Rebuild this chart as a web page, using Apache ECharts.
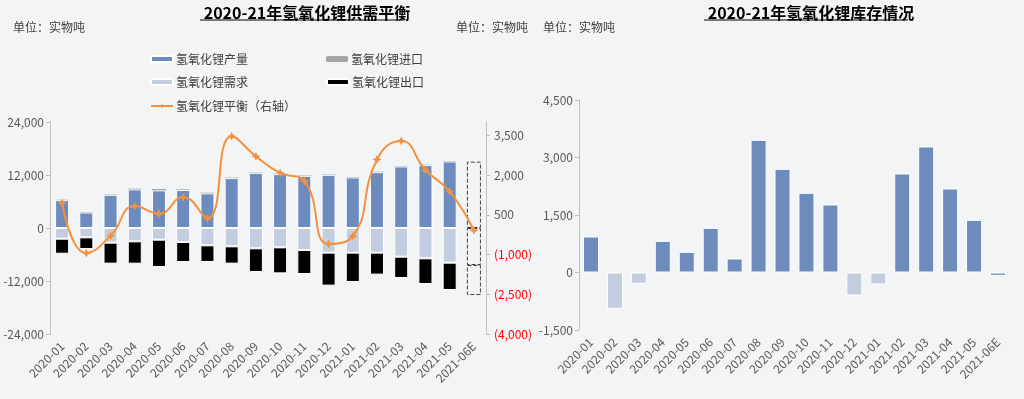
<!DOCTYPE html>
<html>
<head>
<meta charset="utf-8">
<script src="https://cdn.jsdelivr.net/npm/echarts@6/dist/echarts.min.js"></script>
<style>
html, body { margin: 0; padding: 0; background: #f3f4f6; }
#main { width: 1024px; height: 399px; }
</style>
</head>
<body>
<div id="main"></div>
<script>
// 月份
var months = ['2020-01', '2020-02', '2020-03', '2020-04', '2020-05', '2020-06', '2020-07', '2020-08', '2020-09',
    '2020-10', '2020-11', '2020-12', '2021-01', '2021-02', '2021-03', '2021-04', '2021-05', '2021-06E'];
// 供需（实物吨）
var production = [6300, 3520, 7520, 8750, 8530, 8600, 7850, 11300, 12500, 12200, 11820, 12050, 11450, 12650, 13940, 14240, 15070, 15020];
var imports = [100, 100, 100, 150, 300, 150, 150, 100, 100, 100, 100, 100, 100, 100, 100, 100, 100, 0];
var demand = [-2420, -2110, -3320, -3020, -2640, -3170, -3920, -4150, -4600, -4380, -4980, -5580, -5580, -5580, -6490, -6870, -7850, -8380];
var exports = [-3400, -2640, -4750, -5060, -6190, -4530, -3770, -3920, -5360, -5890, -5430, -7470, -6640, -4980, -4830, -5810, -6190, -6790];
// 平衡 / 库存
var balance = [939, -948, -296, 826, 539, 1165, 365, 3461, 2704, 2078, 1774, -600, -313, 2583, 3287, 2191, 1374, -87];

var FONT = 'Noto Sans CJK SC';
var TXT = '#595959';
var estIdx = months.length - 1;

function fmt(v) {
    return echarts.format.addCommas(v);
}
function fmtRight(v) {
    return v < 0 ? '(' + fmt(-v) + ')' : fmt(v);
}
// 预估月份画虚线框
function withEstimate(arr) {
    return arr.map(function (v, i) {
        if (i !== estIdx) return v;
        return {
            value: v,
            itemStyle: { color: 'rgba(0,0,0,0)', borderColor: '#404040', borderType: 'dashed', borderWidth: 1 }
        };
    });
}

var myChart = echarts.init(document.getElementById('main'));

var barBorder = { borderColor: '#fff', borderWidth: 1 };

var option = {
    backgroundColor: '#f3f4f6',
    animation: false,
    textStyle: { fontFamily: FONT },
    title: [
        { text: '2020-21年氢氧化锂供需平衡', left: 302, top: 0, textAlign: 'center',
          textStyle: { fontSize: 16, fontWeight: 'bold', color: '#000', fontFamily: FONT } },
        { text: '2020-21年氢氧化锂库存情况', left: 806, top: 0, textAlign: 'center',
          textStyle: { fontSize: 16, fontWeight: 'bold', color: '#000', fontFamily: FONT } },
        { text: '单位：实物吨', left: 8, top: 16, textStyle: { fontSize: 12, fontWeight: 'normal', color: '#404040', fontFamily: FONT } },
        { text: '单位：实物吨', left: 451, top: 16, textStyle: { fontSize: 12, fontWeight: 'normal', color: '#404040', fontFamily: FONT } },
        { text: '单位：实物吨', left: 538, top: 16, textStyle: { fontSize: 12, fontWeight: 'normal', color: '#404040', fontFamily: FONT } }
    ],
    graphic: [
        { type: 'line', shape: { x1: 200, y1: 20, x2: 404, y2: 20 }, style: { stroke: '#000', lineWidth: 1.2 } },
        { type: 'line', shape: { x1: 704, y1: 20, x2: 908, y2: 20 }, style: { stroke: '#000', lineWidth: 1.2 } }
    ],
    legend: [
        { data: ['氢氧化锂产量'], left: 150, top: 53 },
        { data: ['氢氧化锂进口'], left: 326, top: 53 },
        { data: ['氢氧化锂需求'], left: 150, top: 76 },
        { data: ['氢氧化锂出口'], left: 326, top: 76 },
        { data: ['氢氧化锂平衡（右轴）'], left: 150, top: 100 }
    ].map(function (l) {
        l.itemWidth = 22;
        l.itemHeight = 6;
        l.itemGap = 4;
        l.padding = 0;
        l.selectedMode = false;
        l.textStyle = { fontSize: 12, color: '#404040', fontFamily: FONT, padding: [0, 0, 0, -2] };
        return l;
    }),
    grid: [
        { left: 50, top: 122, width: 436, height: 212 },
        { left: 579, top: 100, width: 431, height: 230 }
    ],
    xAxis: [
        {
            type: 'category', gridIndex: 0, data: months,
            axisLine: { show: false, onZero: false },
            axisTick: { show: false },
            axisLabel: { interval: 0, rotate: 45, fontSize: 12, color: TXT, margin: 10 }
        },
        {
            type: 'category', gridIndex: 1, data: months,
            axisLine: { show: false, onZero: false },
            axisTick: { show: false },
            axisLabel: { interval: 0, rotate: 45, fontSize: 12, color: TXT, margin: 10 }
        }
    ],
    yAxis: [
        {
            type: 'value', gridIndex: 0, min: -24000, max: 24000, interval: 12000,
            axisLine: { show: true, lineStyle: { color: '#bfbfbf' } },
            axisTick: { show: true, length: 4, lineStyle: { color: '#bfbfbf' } },
            splitLine: { show: false },
            axisLabel: { fontSize: 12, color: TXT, margin: 6, formatter: fmt }
        },
        {
            type: 'value', gridIndex: 0, position: 'right', min: -4000, max: 4000, interval: 1500,
            axisLine: { show: true, lineStyle: { color: '#bfbfbf' } },
            axisTick: { show: true, length: 4, lineStyle: { color: '#bfbfbf' } },
            splitLine: { show: false },
            axisLabel: {
                fontSize: 12, margin: 8, showMaxLabel: false, formatter: fmtRight,
                color: function (v) { return v < 0 ? '#ff0000' : TXT; }
            }
        },
        {
            type: 'value', gridIndex: 1, min: -1500, max: 4500, interval: 1500,
            axisLine: { show: true, lineStyle: { color: '#bfbfbf' } },
            axisTick: { show: true, length: 4, lineStyle: { color: '#bfbfbf' } },
            splitLine: { show: false },
            axisLabel: { fontSize: 12, color: TXT, margin: 6, formatter: fmt }
        }
    ],
    series: [
        {
            name: '氢氧化锂产量', type: 'bar', stack: 'sd', barWidth: '58%',
            xAxisIndex: 0, yAxisIndex: 0,
            itemStyle: Object.assign({ color: '#6b8cbd' }, barBorder),
            data: withEstimate(production)
        },
        {
            name: '氢氧化锂进口', type: 'bar', stack: 'sd',
            xAxisIndex: 0, yAxisIndex: 0,
            itemStyle: { color: '#a5a5a5', borderWidth: 0 },
            data: imports
        },
        {
            name: '氢氧化锂需求', type: 'bar', stack: 'sd',
            xAxisIndex: 0, yAxisIndex: 0,
            itemStyle: Object.assign({ color: '#c3cde0' }, barBorder),
            data: withEstimate(demand)
        },
        {
            name: '氢氧化锂出口', type: 'bar', stack: 'sd',
            xAxisIndex: 0, yAxisIndex: 0,
            itemStyle: Object.assign({ color: '#000000' }, barBorder),
            data: withEstimate(exports)
        },
        {
            name: '氢氧化锂平衡（右轴）', type: 'line', smooth: true,
            xAxisIndex: 0, yAxisIndex: 1,
            symbol: 'path://M0,-5 L1.6,-1.6 L5,0 L1.6,1.6 L0,5 L-1.6,1.6 L-5,0 L-1.6,-1.6 Z',
            symbolSize: 9,
            lineStyle: { color: '#f5913e', width: 2 },
            itemStyle: { color: '#f5913e' },
            data: balance,
            z: 5
        },
        {
            name: '库存', type: 'bar', barWidth: '67%',
            xAxisIndex: 1, yAxisIndex: 2,
            itemStyle: barBorder,
            data: balance.map(function (v, i) {
                return {
                    value: v,
                    itemStyle: { color: (v < 0 && i !== estIdx) ? '#c3cde0' : '#6b8cbd' }
                };
            })
        }
    ]
};

myChart.setOption(option);

window.addEventListener('resize', function () {
    myChart.resize();
});
</script>
</body>
</html>
